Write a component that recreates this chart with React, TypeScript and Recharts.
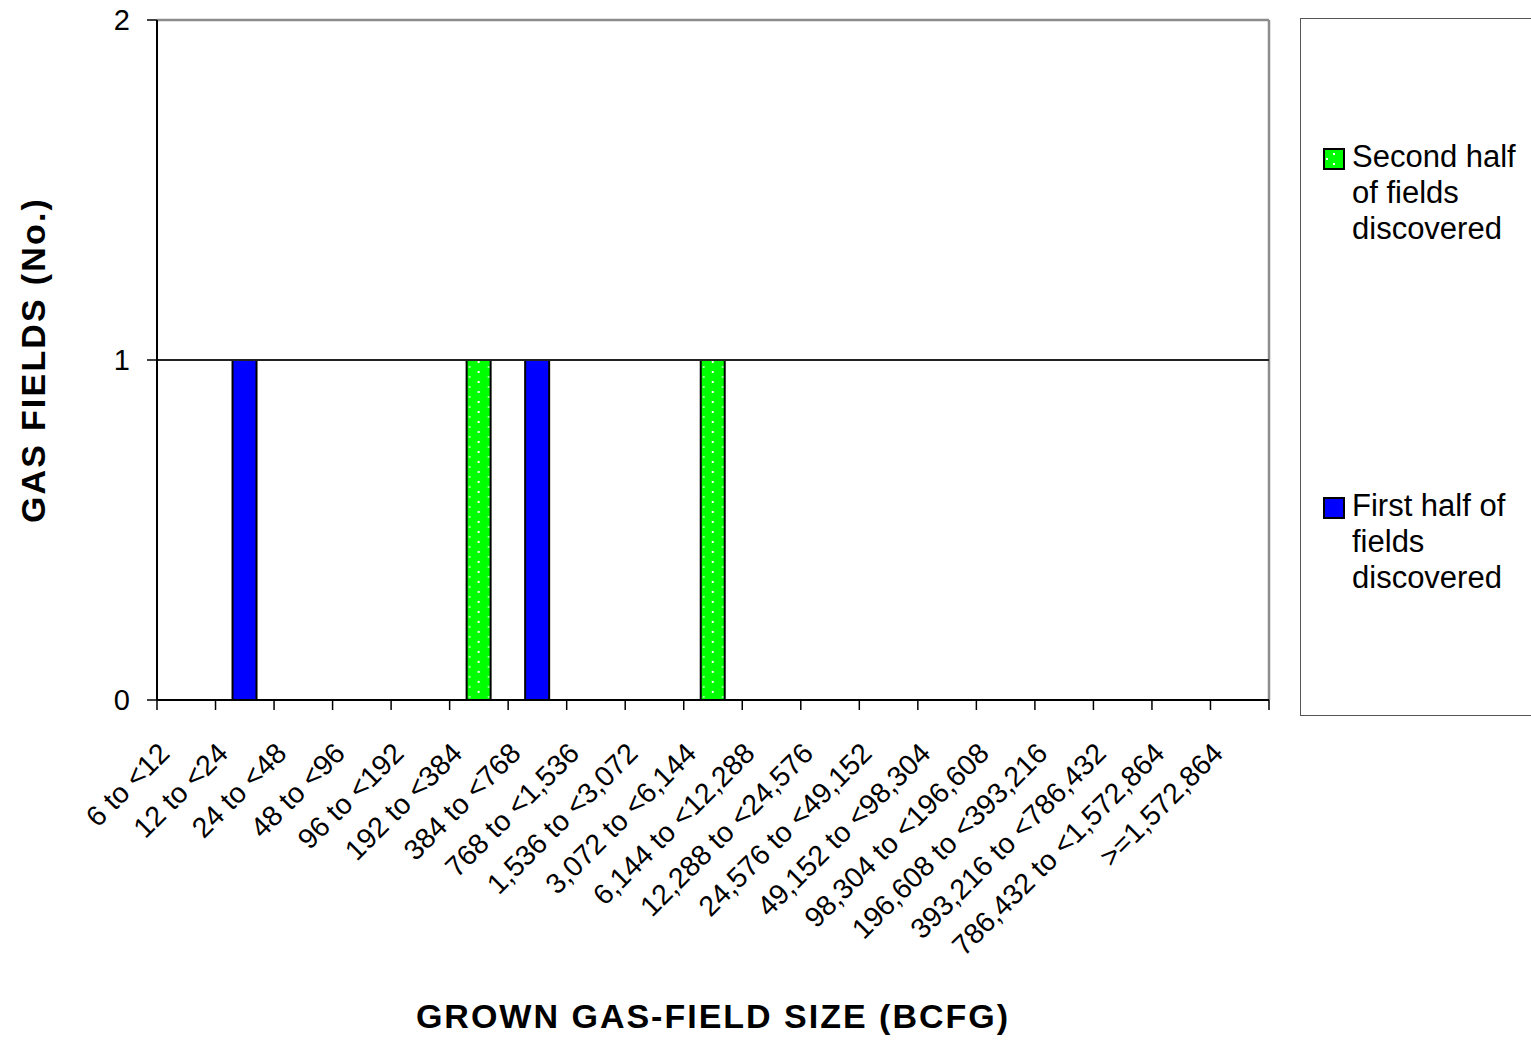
import React from 'react';
import { BarChart, Bar, XAxis, YAxis, ReferenceLine } from 'recharts';

// size classes, BCFG
const categories = [
  '6 to <12',
  '12 to <24',
  '24 to <48',
  '48 to <96',
  '96 to <192',
  '192 to <384',
  '384 to <768',
  '768 to <1,536',
  '1,536 to <3,072',
  '3,072 to <6,144',
  '6,144 to <12,288',
  '12,288 to <24,576',
  '24,576 to <49,152',
  '49,152 to <98,304',
  '98,304 to <196,608',
  '196,608 to <393,216',
  '393,216 to <786,432',
  '786,432 to <1,572,864',
  '>=1,572,864',
];

const firstHalf = [0, 1, 0, 0, 0, 0, 1, 0, 0, 0, 0, 0, 0, 0, 0, 0, 0, 0, 0];
const secondHalf = [0, 0, 0, 0, 0, 1, 0, 0, 0, 1, 0, 0, 0, 0, 0, 0, 0, 0, 0];
const yTicks = [0, 1, 2];

const FONT = '"Liberation Sans", Arial, Helvetica, sans-serif';
const BLUE = '#0000ff';
const GREEN = '#00ff00';
const BORDER = '#8c8c8c';

const data = categories.map((name, i) => ({
  name,
  first: firstHalf[i],
  second: secondHalf[i],
}));

// Excel style: tick marks between categories, label hanging under the centre
const CategoryTick = (props: any) => {
  const { x, y, payload, index, visibleTicksCount } = props;
  const half = payload.offset || 0;
  const ax = x - 15;
  const ay = y + 55;
  const isLast = index === visibleTicksCount - 1;
  return (
    <g>
      <line x1={x - half} y1={y} x2={x - half} y2={y + 10} stroke="#000" strokeWidth={1.5} />
      {isLast && <line x1={x + half} y1={y} x2={x + half} y2={y + 10} stroke="#000" strokeWidth={1.5} />}
      <text
        x={ax}
        y={ay}
        transform={`rotate(-45 ${ax} ${ay})`}
        textAnchor="end"
        fontSize={28.5}
        fontFamily={FONT}
        fill="#000"
      >
        {payload.value}
      </text>
    </g>
  );
};

const GreenSwatch = () => (
  <svg width={22} height={22} style={{ position: 'absolute', left: 0, top: 0 }}>
    <rect x={1} y={1} width={20} height={20} fill={GREEN} stroke="#000" strokeWidth={2} />
    <rect x={10} y={5} width={2} height={2} fill="#fff" />
    <rect x={10} y={15} width={2} height={2} fill="#fff" />
    <rect x={3} y={10} width={2} height={2} fill="#fff" />
  </svg>
);

const BlueSwatch = () => (
  <svg width={22} height={22} style={{ position: 'absolute', left: 0, top: 0 }}>
    <rect x={1} y={1} width={20} height={20} fill={BLUE} stroke="#000" strokeWidth={2} />
  </svg>
);

const legendText: React.CSSProperties = {
  position: 'absolute',
  left: 29,
  top: -9,
  fontSize: 31,
  lineHeight: '36px',
  fontFamily: FONT,
  color: '#000',
  whiteSpace: 'nowrap',
};

export default function App() {
  const last = categories[categories.length - 1];
  return (
    <div
      style={{
        position: 'absolute',
        left: 0,
        top: 0,
        width: 1531,
        height: 1044,
        overflow: 'hidden',
        background: '#fff',
        fontFamily: FONT,
      }}
    >
      <BarChart
        width={1531}
        height={1044}
        data={data}
        margin={{ top: 20, right: 262, bottom: 0, left: 0 }}
      >
        <defs>
          <pattern id="dots" patternUnits="objectBoundingBox" width={1} height={0.0294}>
            <rect x={0} y={0} width={30} height={10} fill={GREEN} />
            <rect x={11} y={1} width={2} height={2} fill="#fff" />
            <rect x={2} y={6} width={2} height={2} fill="#fff" opacity={0.6} />
            <rect x={21} y={6} width={2} height={2} fill="#fff" opacity={0.6} />
          </pattern>
        </defs>

        {/* grey plot frame (top and right) plus the black gridline at 1 */}
        <ReferenceLine y={2} stroke={BORDER} strokeWidth={2.5} />
        <ReferenceLine x={last} position="end" stroke={BORDER} strokeWidth={2.5} />
        <ReferenceLine y={1} stroke="#222" strokeWidth={2} />

        <XAxis
          dataKey="name"
          interval={0}
          height={344}
          tickSize={0}
          tickMargin={0}
          axisLine={{ stroke: '#000', strokeWidth: 2 }}
          tickLine={false}
          tick={<CategoryTick />}
          label={{
            value: 'GROWN GAS-FIELD SIZE (BCFG)',
            position: 'insideBottom',
            offset: 16,
            style: { fontSize: 34, fontWeight: 'bold', fill: '#000', fontFamily: FONT, letterSpacing: 2 },
          }}
        />
        <YAxis
          domain={[0, 2]}
          ticks={yTicks}
          interval={0}
          width={157}
          tickSize={10}
          tickMargin={17}
          axisLine={{ stroke: '#000', strokeWidth: 2 }}
          tickLine={{ stroke: '#000', strokeWidth: 1.5 }}
          tick={{ fontSize: 29, fill: '#000', fontFamily: FONT }}
          label={{
            value: 'GAS FIELDS (No.)',
            angle: -90,
            position: 'insideLeft',
            offset: 33,
            style: { textAnchor: 'middle', fontSize: 34, fontWeight: 'bold', fill: '#000', fontFamily: FONT, letterSpacing: 2.2 },
          }}
        />

        <Bar
          dataKey="first"
          stackId="s"
          barSize={24}
          fill={BLUE}
          stroke="#000"
          strokeWidth={2}
          isAnimationActive={false}
        />
        <Bar
          dataKey="second"
          stackId="s"
          barSize={24}
          fill="url(#dots)"
          stroke="#000"
          strokeWidth={2}
          isAnimationActive={false}
        />
      </BarChart>

      {/* legend box */}
      <div
        style={{
          position: 'absolute',
          left: 1300,
          top: 18,
          width: 300,
          height: 698,
          border: '1.5px solid #555',
          boxSizing: 'border-box',
        }}
      />
      <div style={{ position: 'absolute', left: 1323, top: 148 }}>
        <GreenSwatch />
        <div style={legendText}>
          Second half
          <br />
          of fields
          <br />
          discovered
        </div>
      </div>
      <div style={{ position: 'absolute', left: 1323, top: 497 }}>
        <BlueSwatch />
        <div style={legendText}>
          First half of
          <br />
          fields
          <br />
          discovered
        </div>
      </div>
    </div>
  );
}
